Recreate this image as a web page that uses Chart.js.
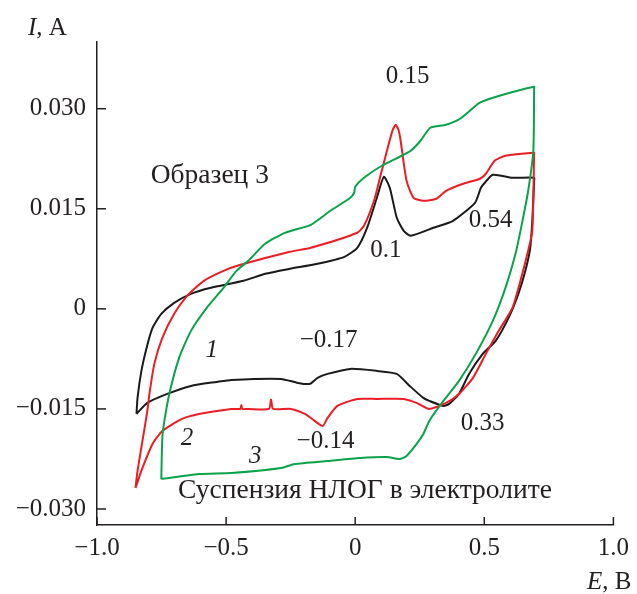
<!DOCTYPE html>
<html>
<head>
<meta charset="utf-8">
<script src="https://cdn.jsdelivr.net/npm/chart.js@4.4.1/dist/chart.umd.min.js"></script>
<style>
  html, body { margin: 0; padding: 0; background: #fff; }
  #wrap { width: 637px; height: 594px; }
</style>
</head>
<body>
<div id="wrap"><canvas id="cv" width="637" height="594"></canvas></div>
<script>
// Кривая 1 (чёрная): E, В и I, мА (прямой ход, затем обратный)
const curve1E = [-0.847, -0.843, -0.828, -0.808, -0.785, -0.751, -0.701, -0.636, -0.559, -0.433, -0.349, -0.253, -0.146, -0.042, 0.008, 0.046, 0.084, 0.111, 0.134, 0.161, 0.188, 0.215, 0.303, 0.379, 0.464, 0.487, 0.502, 0.533, 0.609, 0.693,
  0.693, 0.686, 0.678, 0.659, 0.632, 0.594, 0.544, 0.494, 0.441, 0.402, 0.364, 0.341, 0.287, 0.264, 0.211, 0.161, 0.084, -0.019, -0.107, -0.146, -0.176, -0.222, -0.287, -0.479, -0.536, -0.636, -0.728, -0.805, -0.847];
const curve1I = [-15.75, -13.35, -9.3, -5.85, -2.85, -0.75, 0.9, 2.25, 3.15, 4.2, 5.25, 6.0, 6.75, 7.8, 9.15, 12.15, 16.65, 19.8, 18.15, 13.65, 11.7, 10.95, 12.15, 13.2, 15.9, 18.15, 18.9, 20.1, 19.65, 19.65,
  19.2, 13.2, 9.15, 5.7, 2.25, -1.35, -4.8, -6.75, -9.75, -12.75, -14.25, -14.55, -13.8, -13.35, -11.55, -9.75, -9.3, -9.0, -9.75, -10.35, -11.25, -11.1, -10.5, -10.65, -10.95, -11.55, -12.75, -14.1, -15.75];

// Кривая 2 (красная)
const curve2E = [-0.851, -0.843, -0.824, -0.805, -0.797, -0.778, -0.747, -0.701, -0.651, -0.586, -0.510, -0.444, -0.253, -0.172, 0.008, 0.034, 0.073, 0.096, 0.123, 0.145, 0.157, 0.168, 0.176, 0.199, 0.226, 0.264, 0.314, 0.352, 0.418, 0.483, 0.506, 0.540, 0.582, 0.693,
  0.693, 0.686, 0.667, 0.640, 0.609, 0.556, 0.506, 0.456, 0.402, 0.352, 0.287, 0.238, 0.188, 0.084, 0.008, -0.069, -0.107, -0.126, -0.157, -0.195, -0.249, -0.318, -0.326, -0.334, -0.414, -0.437, -0.441, -0.445, -0.479, -0.605, -0.671, -0.747, -0.785, -0.824, -0.851];
const curve2I = [-26.85, -24.3, -19.8, -15.3, -12.75, -8.25, -4.35, -0.75, 1.95, 4.2, 5.7, 6.6, 8.55, 9.15, 11.4, 12.45, 16.2, 19.65, 23.7, 26.8, 27.6, 26.8, 25.2, 19.2, 16.65, 16.2, 16.5, 17.7, 18.75, 19.5, 20.25, 22.2, 22.95, 23.4,
  23.25, 11.7, 8.25, 4.2, 0.15, -3.3, -6.75, -10.35, -12.75, -14.1, -15.0, -14.1, -13.5, -13.5, -13.5, -14.55, -16.35, -17.55, -16.8, -15.75, -15.0, -15.0, -13.6, -15.0, -15.0, -15.0, -14.4, -15.0, -15.0, -15.75, -16.5, -18.3, -20.25, -23.85, -26.85];

// Кривая 3 (зелёная)
const curve3E = [-0.751, -0.747, -0.739, -0.720, -0.682, -0.636, -0.575, -0.510, -0.460, -0.414, -0.349, -0.272, -0.172, -0.096, -0.019, -0.004, 0.0, 0.034, 0.103, 0.180, 0.215, 0.253, 0.291, 0.352, 0.406, 0.483, 0.559, 0.693,
  0.693, 0.690, 0.670, 0.648, 0.621, 0.582, 0.533, 0.467, 0.402, 0.333, 0.287, 0.264, 0.238, 0.199, 0.172, 0.123, 0.019, -0.107, -0.234, -0.287, -0.479, -0.605, -0.751];
const curve3I = [-25.5, -19.35, -16.8, -12.75, -7.35, -3.3, 0.15, 3.15, 5.7, 7.2, 9.75, 11.4, 12.6, 14.7, 16.65, 17.4, 18.3, 19.65, 21.45, 22.95, 23.7, 25.2, 27.15, 27.6, 28.5, 30.9, 31.95, 33.3,
  33.0, 23.7, 17.7, 13.2, 8.25, 3.15, -1.8, -6.75, -10.8, -14.25, -16.8, -18.75, -20.25, -22.05, -22.5, -22.2, -22.35, -22.8, -23.25, -23.85, -24.6, -24.75, -25.5];

// Деления осей
const xTicks = [-1.0, -0.5, 0, 0.5, 1.0];
const yTicks = [-0.030, -0.015, 0, 0.015, 0.030];

// Подписи на поле графика (E, В; I, мА)
const noteText = ['0.15', 'Образец 3', '0.1', '0.54', '1', '−0.17', '2', '3', '−0.14', '0.33', 'Суспензия НЛОГ в электролите'];
const noteE = [0.203, -0.563, 0.119, 0.525, -0.556, -0.103, -0.651, -0.387, -0.115, 0.494, 0.038];
const noteI = [34.8, 19.95, 8.7, 13.2, -6.3, -4.8, -19.35, -22.05, -19.8, -17.25, -27.3];
const noteItalic = [false, false, false, false, true, false, true, true, false, false, false];

const FONT = 'Liberation Serif';
const TEXT = '#231f20';

const toPoints = (es, is) => es.map((e, k) => ({ x: e, y: is[k] / 1000 }));
const fmt = (v, d) => v === 0 ? '0' : v.toFixed(d).replace('-', '−');

const line = (es, is, color) => ({
  data: toPoints(es, is),
  showLine: true,
  borderColor: color,
  borderWidth: 2,
  pointRadius: 0,
  fill: false,
  tension: 0.2
});

// Внутренние засечки, подписи осей и текст на поле
const extras = {
  id: 'extras',
  afterDraw(chart) {
    const { ctx, chartArea: a, scales: { x, y } } = chart;
    ctx.save();
    ctx.strokeStyle = TEXT;
    ctx.lineWidth = 1.5;
    x.ticks.forEach(t => {
      const px = x.getPixelForValue(t.value);
      ctx.beginPath(); ctx.moveTo(px, a.bottom); ctx.lineTo(px, a.bottom - 8); ctx.stroke();
    });
    y.ticks.forEach(t => {
      const py = y.getPixelForValue(t.value);
      ctx.beginPath(); ctx.moveTo(a.left, py); ctx.lineTo(a.left + 9, py); ctx.stroke();
    });

    ctx.fillStyle = TEXT;
    ctx.textBaseline = 'alphabetic';
    ctx.textAlign = 'left';
    ctx.font = 'italic 25px "' + FONT + '"';
    ctx.fillText('I', 28, 35);
    let w = ctx.measureText('I').width;
    ctx.font = '25px "' + FONT + '"';
    ctx.fillText(', A', 28 + w, 35);

    ctx.font = 'italic 25px "' + FONT + '"';
    ctx.fillText('E', 587, 589);
    w = ctx.measureText('E').width;
    ctx.font = '25px "' + FONT + '"';
    ctx.fillText(', B', 587 + w, 589);

    ctx.textAlign = 'center';
    ctx.textBaseline = 'middle';
    noteText.forEach((s, k) => {
      // кириллица в оригинале заметно шире
      const size = /[А-яЁё]/.test(s) ? 27.5 : 25;
      ctx.font = (noteItalic[k] ? 'italic ' : '') + size + 'px "' + FONT + '"';
      ctx.fillText(s, x.getPixelForValue(noteE[k]), y.getPixelForValue(noteI[k] / 1000));
    });
    ctx.restore();
  }
};

new Chart(document.getElementById('cv'), {
  type: 'scatter',
  data: {
    datasets: [
      line(curve3E, curve3I, '#0aa24a'),
      line(curve2E, curve2I, '#ec1c24'),
      line(curve1E, curve1I, '#1a1a1a')
    ]
  },
  options: {
    responsive: false,
    animation: false,
    layout: { padding: { top: 42, right: 18, left: 0, bottom: 0 } },
    plugins: { legend: { display: false }, tooltip: { enabled: false } },
    scales: {
      x: {
        type: 'linear', min: -1, max: 1,
        afterBuildTicks: s => { s.ticks = xTicks.map(v => ({ value: v })); },
        afterFit: s => { s.height = 69; },
        grid: { display: false, drawTicks: false },
        border: { display: true, color: TEXT, width: 1.5 },
        ticks: { padding: 8, autoSkip: false, maxRotation: 0, color: TEXT, font: { family: FONT, size: 25 }, callback: v => fmt(v, 1) }
      },
      y: {
        type: 'linear', min: -0.0324, max: 0.040,
        afterBuildTicks: s => { s.ticks = yTicks.map(v => ({ value: v })); },
        afterFit: s => { s.width = 97; },
        grid: { display: false, drawTicks: false },
        border: { display: true, color: TEXT, width: 1.5 },
        ticks: { padding: 11, autoSkip: false, color: TEXT, font: { family: FONT, size: 25 }, callback: v => fmt(v, 3) }
      }
    }
  },
  plugins: [extras]
});
</script>
</body>
</html>
